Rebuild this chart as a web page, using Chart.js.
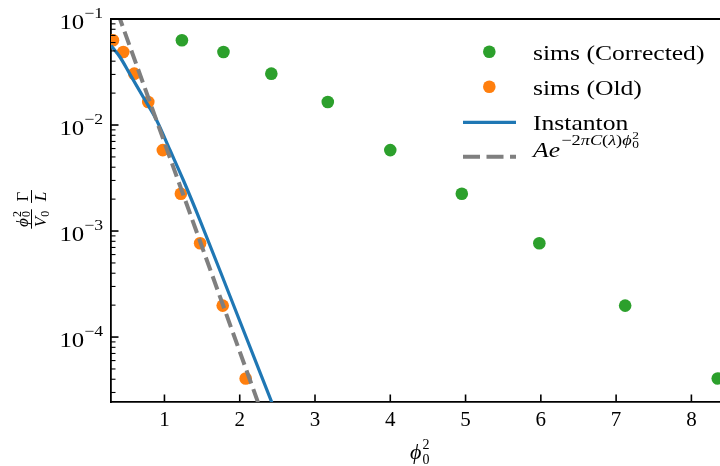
<!DOCTYPE html>
<html lang="en">
<head>
<meta charset="UTF-8">
<title>Decay rate against phi0^2</title>
<script src="https://cdn.jsdelivr.net/npm/chart.js"></script>
<style>
    html, body { margin: 0; padding: 0; background: #fff; }
    #rateChart { display: block; }
</style>
</head>
<body>
<canvas id="rateChart" width="720" height="466"></canvas>
<script>
// simulation points, both sets share the same rate values
const oldX       = [0.316, 0.453, 0.599, 0.785, 0.978, 1.218, 1.474, 1.774, 2.079];
const correctedX = [1.232, 1.784, 2.42, 3.17, 4.0, 4.95, 5.98, 7.12, 8.35];
const simsY      = [0.0631, 0.0489, 0.0305, 0.0165, 0.0058, 0.00225, 0.000766, 0.000198, 0.0000407];

// instanton prediction
const instantonX = [0.29, 0.409, 0.542, 0.741, 0.896, 1.073, 1.25, 1.471, 1.87, 2.5];
const instantonY = [0.0562, 0.0438, 0.0301, 0.0172, 0.0111, 0.00581, 0.00303, 0.00127, 0.000244, 0.0000178];

// exponential fit A e^{-2 pi C phi0^2}: straight line, two end points
const fitX = [0.29, 2.3];
const fitY = [0.172, 0.0000187];

const xTicks = [1, 2, 3, 4, 5, 6, 7, 8];
const yTickExps = [-1, -2, -3, -4];
const xRange = [0.29, 8.38];
const yRange = [0.0000244, 0.1];

const PHI = '\u03d5';
const SERIF = '"Liberation Serif", "DejaVu Serif", serif';
function fnt(size, italic) {
    return (italic ? 'italic ' : '') + size + 'px ' + SERIF;
}

// pieces: [text, size, italic, dy]
function runWidth(ctx, pieces) {
    let w = 0;
    pieces.forEach(p => { ctx.font = fnt(p[1], p[2]); w += ctx.measureText(p[0]).width; });
    return w;
}
function drawRun(ctx, pieces, x, y) {
    pieces.forEach(p => {
        ctx.font = fnt(p[1], p[2]);
        ctx.fillText(p[0], x, y + (p[3] || 0));
        x += ctx.measureText(p[0]).width;
    });
    return x;
}
// the original uses Computer Modern, which runs wider than Times
function stretched(ctx, x, y, sx, fn) {
    ctx.save();
    ctx.translate(x, y);
    ctx.scale(sx, 1);
    fn();
    ctx.restore();
}

function pts(xs, ys) {
    return xs.map((x, i) => ({ x: x, y: ys[i] }));
}

// ticks pointing inward, tick labels, titles, top spine and legend
const decorations = {
    id: 'decorations',
    afterDraw(chart) {
        const ctx = chart.ctx;
        const a = chart.chartArea;
        const xs = chart.scales.x, ys = chart.scales.y;
        ctx.save();
        ctx.strokeStyle = '#000';
        ctx.fillStyle = '#000';
        ctx.textBaseline = 'alphabetic';

        // top spine
        ctx.lineWidth = 1.8;
        ctx.beginPath();
        ctx.moveTo(a.left, a.top);
        ctx.lineTo(a.right, a.top);
        ctx.stroke();

        // x ticks
        ctx.lineWidth = 1.6;
        xTicks.forEach(v => {
            const px = xs.getPixelForValue(v);
            ctx.beginPath();
            ctx.moveTo(px, a.bottom);
            ctx.lineTo(px, a.bottom - 7.5);
            ctx.stroke();
            ctx.font = fnt(21);
            ctx.textAlign = 'center';
            ctx.fillText(String(v), px, 426);
        });

        // y ticks, major and minor
        ctx.textAlign = 'left';
        yTickExps.forEach(e => {
            const py = ys.getPixelForValue(Math.pow(10, e));
            ctx.lineWidth = 1.6;
            ctx.beginPath();
            ctx.moveTo(a.left, py);
            ctx.lineTo(a.left + 7.5, py);
            ctx.stroke();
            const base = [['10', 21, false, 0]];
            const sup = [['\u2212' + Math.abs(e), 15, false, 0]];
            const sx = 1.18;
            const w = (runWidth(ctx, base) + runWidth(ctx, sup)) * sx;
            stretched(ctx, 103 - w, py, sx, () => {
                const x1 = drawRun(ctx, base, 0, 9.5);
                drawRun(ctx, sup, x1, -1);
            });
        });
        ctx.lineWidth = 1.1;
        for (let e = -5; e <= -2; e++) {
            for (let m = 2; m <= 9; m++) {
                const v = m * Math.pow(10, e);
                if (v < yRange[0] || v > yRange[1]) continue;
                const py = ys.getPixelForValue(v);
                ctx.beginPath();
                ctx.moveTo(a.left, py);
                ctx.lineTo(a.left + 4.5, py);
                ctx.stroke();
            }
        }

        // x title: phi_0^2
        let tx = drawRun(ctx, [[PHI, 22, true, 0]], 410, 459);
        drawRun(ctx, [['0', 14, false, 0]], tx + 1, 464);
        drawRun(ctx, [['2', 14, false, 0]], tx + 1, 449);

        // y title: (phi0^2 / V0) (Gamma / L), rotated
        ctx.save();
        ctx.translate(31.5, 208);
        ctx.rotate(-Math.PI / 2);
        const fracs = [
            { cx: -11, num: [[PHI, 17, true, 0]], numSub: true, den: [['V', 17, true, 0], ['0', 12, false, 3]] },
            { cx: 11.5, num: [['\u0393', 17, false, 0]], den: [['L', 17, true, 0]] }
        ];
        fracs.forEach(f => {
            let nw = runWidth(ctx, f.num);
            if (f.numSub) nw += runWidth(ctx, [['0', 12, false, 0]]) + 1;
            const dw = runWidth(ctx, f.den);
            const bw = Math.max(nw, dw) + 3;
            ctx.lineWidth = 1;
            ctx.beginPath();
            ctx.moveTo(f.cx - bw / 2, 0);
            ctx.lineTo(f.cx + bw / 2, 0);
            ctx.stroke();
            const ex = drawRun(ctx, f.num, f.cx - nw / 2, -4);
            if (f.numSub) {
                drawRun(ctx, [['0', 12, false, 0]], ex + 1, -1.5);
                drawRun(ctx, [['2', 12, false, 0]], ex + 1, -11);
            }
            drawRun(ctx, f.den, f.cx - dw / 2, 14);
        });
        ctx.restore();

        // legend
        const ds = chart.data.datasets;
        const rows = [
            { i: 0, mark: 'point', my: 51.7, base: 59.5 },
            { i: 1, mark: 'point', my: 86.7, base: 95 },
            { i: 2, mark: 'line', my: 122.3, base: 130 },
            { i: 3, mark: 'dash', my: 156.7, base: 157 }
        ];
        const lsx = 1.22;
        rows.forEach(r => {
            const d = ds[r.i];
            if (r.mark === 'point') {
                ctx.fillStyle = d.backgroundColor;
                ctx.beginPath();
                ctx.arc(489.3, r.my, 6.3, 0, Math.PI * 2);
                ctx.fill();
            } else {
                ctx.strokeStyle = d.borderColor;
                ctx.lineWidth = d.borderWidth;
                ctx.setLineDash(r.mark === 'dash' ? [17, 6.5] : []);
                ctx.beginPath();
                ctx.moveTo(463, r.my);
                ctx.lineTo(516, r.my);
                ctx.stroke();
                ctx.setLineDash([]);
            }
            ctx.fillStyle = '#000';
            stretched(ctx, 533, r.base, lsx, () => {
                if (r.i === 3) {
                    let x = drawRun(ctx, [['A', 21, true, 0], ['e', 21, true, 0]], 0, 0);
                    x = drawRun(ctx, [['\u22122', 15, false, 0], ['\u03c0', 15, true, 0], ['C', 15, true, 0],
                        ['(', 15, false, 0], ['\u03bb', 15, true, 0], [')', 15, false, 0], [PHI, 15, true, 0]], x + 1, -12);
                    drawRun(ctx, [['0', 11, false, 0]], x + 0.5, -9);
                    drawRun(ctx, [['2', 11, false, 0]], x + 0.5, -18);
                } else {
                    drawRun(ctx, [[d.label, 21, false, 0]], 0, 0);
                }
            });
        });
        ctx.restore();
    }
};

const ctx = document.getElementById('rateChart').getContext('2d');
new Chart(ctx, {
    type: 'scatter',
    data: {
        datasets: [
            {
                label: 'sims (Corrected)',
                data: pts(correctedX, simsY),
                backgroundColor: '#2ca02c',
                borderColor: '#2ca02c',
                pointRadius: 6.3,
                pointBorderWidth: 0,
                order: 4,
                clip: 0
            },
            {
                label: 'sims (Old)',
                data: pts(oldX, simsY),
                backgroundColor: '#ff7f0e',
                borderColor: '#ff7f0e',
                pointRadius: 6.3,
                pointBorderWidth: 0,
                order: 3,
                clip: 0
            },
            {
                label: 'Instanton',
                data: pts(instantonX, instantonY),
                showLine: true,
                borderColor: '#1f77b4',
                backgroundColor: '#1f77b4',
                borderWidth: 3.2,
                pointRadius: 0,
                cubicInterpolationMode: 'monotone',
                order: 2,
                clip: 0
            },
            {
                label: 'Ae^{-2\u03c0C(\u03bb)\u03d5_0^2}',
                data: pts(fitX, fitY),
                showLine: true,
                borderColor: '#7f7f7f',
                backgroundColor: '#7f7f7f',
                borderWidth: 4,
                borderDash: [14, 6],
                pointRadius: 0,
                order: 1,
                clip: 0
            }
        ]
    },
    options: {
        responsive: false,
        animation: false,
        layout: { autoPadding: false, padding: { top: 19, right: 0, left: 0, bottom: 0 } },
        plugins: {
            legend: { display: false },
            tooltip: { enabled: false }
        },
        scales: {
            x: {
                type: 'linear',
                position: 'bottom',
                min: xRange[0],
                max: xRange[1],
                ticks: { display: false },
                grid: { display: false },
                border: { display: true, color: '#000', width: 1.8 },
                afterFit: s => { s.height = 64; }
            },
            y: {
                type: 'logarithmic',
                position: 'left',
                min: yRange[0],
                max: yRange[1],
                ticks: { display: false },
                grid: { display: false },
                border: { display: true, color: '#000', width: 1.8 },
                afterFit: s => { s.width = 111; }
            }
        }
    },
    plugins: [decorations]
});
</script>
</body>
</html>
